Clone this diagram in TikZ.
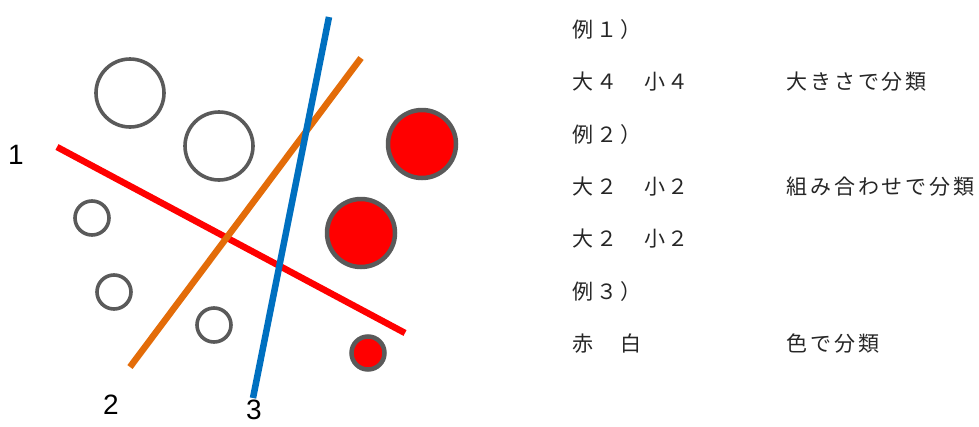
\documentclass[tikz,border=0pt]{standalone}
\usepackage{fontspec}
\setmainfont{Liberation Sans}
\newfontfamily\jpfont[LetterSpace=14]{Noto Sans CJK JP}
\definecolor{ringgray}{HTML}{5A5A5A}
\definecolor{lred}{HTML}{FF0000}
\definecolor{lorange}{HTML}{E36C09}
\definecolor{lblue}{HTML}{0070C0}
\tikzset{
  hollow/.style={circle, draw=ringgray, line width=3.6pt, fill=white, inner sep=0pt},
  redball/.style={circle, draw=ringgray, line width=4.5pt, fill=lred, inner sep=0pt},
  sepline/.style={line width=6.5pt},
  numlabel/.style={font=\fontsize{28}{30}\selectfont, inner sep=0pt},
  jptext/.style={font=\jpfont\fontsize{21}{24}\selectfont, anchor=west, inner sep=0pt, text=black!85}
}
\begin{document}
\begin{tikzpicture}[x=1pt,y=-1pt]
\clip (0,0) rectangle (979,426);
\fill[white] (0,0) rectangle (979,426);
% circles
\node[hollow, minimum size=68pt] (L1) at (130,93) {};
\node[hollow, minimum size=68pt] (L2) at (219,146) {};
\node[hollow, minimum size=34pt] (S1) at (92,218) {};
\node[hollow, minimum size=34pt] (S2) at (114,292) {};
\node[hollow, minimum size=34pt] (S3) at (214,325) {};
\node[redball, minimum size=68pt] (R1) at (422,144) {};
\node[redball, minimum size=68pt] (R2) at (361,233) {};
\node[redball, minimum size=33pt] (R3) at (368,353) {};
% lines
\coordinate (r1) at (57,147);
\coordinate (r2) at (405,333);
\coordinate (o1) at (130,367);
\coordinate (o2) at (361,58);
\coordinate (b1) at (329,17);
\coordinate (b2) at (253,398);
\draw[sepline, lred] (r1) -- (r2);
\draw[sepline, lorange] (o1) -- (o2);
\draw[sepline, lblue] (b1) -- (b2);
% labels
\node[numlabel] (n1) at (16,155) {1};
\node[numlabel] (n2) at (111,405) {2};
\node[numlabel] (n3) at (254,410) {3};
% text
\node[jptext] (t1) at (572,30) {例１）};
\node[jptext] (t2) at (572,82) {大４　小４};
\node[jptext] (t2b) at (786,82) {大きさで分類};
\node[jptext] (t3) at (572,135) {例２）};
\node[jptext] (t4) at (572,187) {大２　小２};
\node[jptext] (t4b) at (786,187) {組み合わせで分類};
\node[jptext] (t5) at (572,239) {大２　小２};
\node[jptext] (t6) at (572,292) {例３）};
\node[jptext] (t7) at (572,344) {赤　白};
\node[jptext] (t7b) at (786,344) {色で分類};
\end{tikzpicture}
\end{document}
